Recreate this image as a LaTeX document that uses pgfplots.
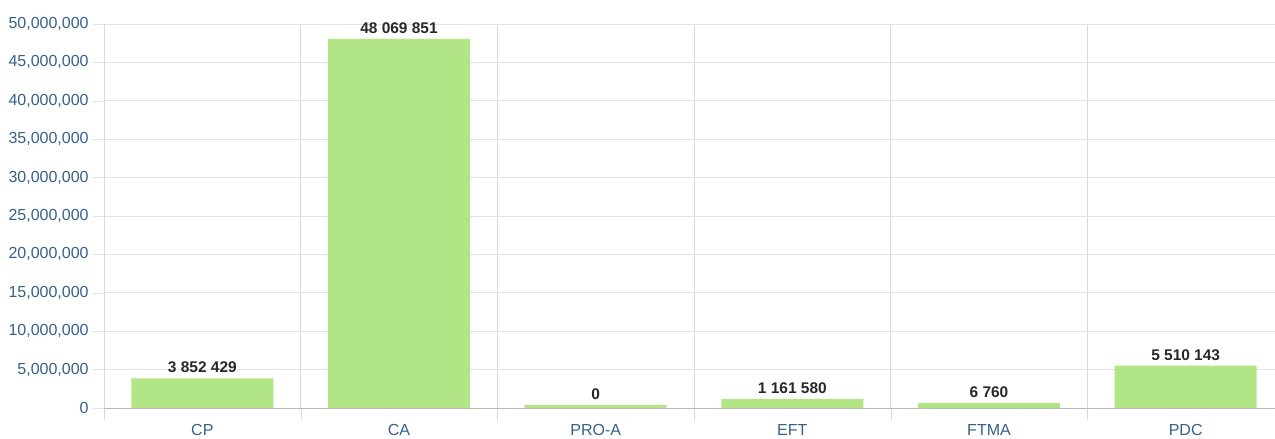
\documentclass[border=0pt]{standalone}
\usepackage{fontspec}
\setmainfont{Liberation Sans}
\usepackage{pgfplots}
\usepackage{pgfplotstable}
\pgfplotsset{compat=1.18}

\definecolor{barg}{RGB}{177,229,134}
\definecolor{tickblue}{RGB}{52,96,140}
\definecolor{gridg}{RGB}{226,226,226}
\definecolor{vgrid}{RGB}{216,216,216}
\definecolor{labg}{RGB}{40,40,40}

% label = printed value, height = bar height as drawn (tiny values get a minimum bar)
\pgfplotstableread[col sep=comma]{
x,name,label,height
0,CP,3 852 429,3852429
1,CA,48 069 851,48069851
2,PRO-A,0,390000
3,EFT,1 161 580,1161580
4,FTMA,6 760,650000
5,PDC,5 510 143,5510143
}\datatable

\begin{document}
\begin{tikzpicture}
\useasboundingbox (0,0) rectangle (956.25pt,329.25pt);
\begin{axis}[
    at={(78pt,23.25pt)}, anchor=south west,
    scale only axis,
    width=885pt, height=288pt,
    xmin=-0.5, xmax=5.5,
    ymin=0, ymax=50000000,
    axis x line*=bottom, axis y line*=left,
    x axis line style={draw=gray!55, -},
    y axis line style={draw=vgrid, -},
    tick align=outside,
    xtick={0,1,2,3,4,5},
    xticklabels={CP,CA,PRO-A,EFT,FTMA,PDC},
    major x tick style={draw=none},
    minor xtick={-0.5,0.5,1.5,2.5,3.5,4.5,5.5},
    minor tick length=9pt,
    minor x tick style={draw=vgrid},
    xminorgrids,
    minor grid style={draw=vgrid, line width=0.6pt},
    ytick={0,5000000,10000000,15000000,20000000,25000000,30000000,35000000,40000000,45000000,50000000},
    scaled y ticks=false,
    major tick length=8pt,
    major y tick style={draw=gridg},
    ymajorgrids,
    major grid style={draw=gridg, line width=0.6pt},
    yticklabel style={/pgf/number format/.cd, fixed, 1000 sep={,}, assume math mode=true},
    ticklabel style={font=\fontsize{12pt}{14pt}\selectfont, text=tickblue},
    xticklabel style={yshift=-1pt},
    nodes near coords,
    point meta=explicit symbolic,
    every node near coord/.append style={font=\fontsize{11.6pt}{14pt}\selectfont\bfseries, text=labg, anchor=south, yshift=0.5pt},
  ]
  \addplot[ybar, bar width=106.5pt, fill=barg, draw=none]
    table[x=x, y=height, meta=label] {\datatable};
\end{axis}
\end{tikzpicture}
\end{document}
